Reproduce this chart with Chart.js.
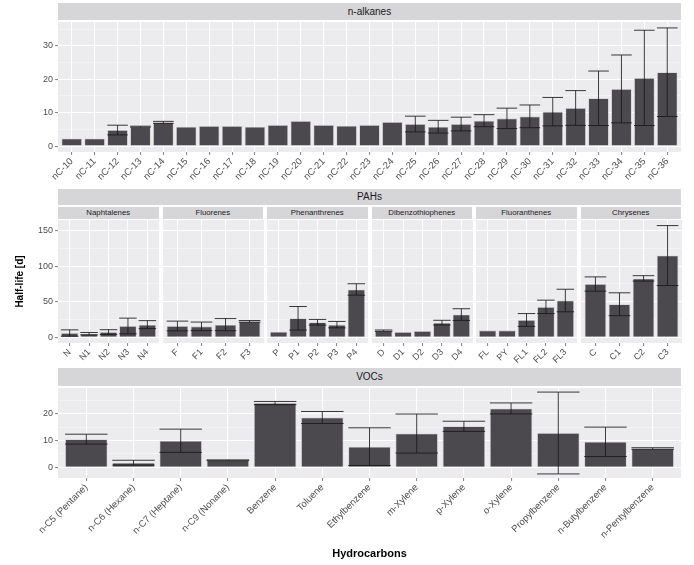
<!DOCTYPE html>
<html>
<head>
<meta charset="utf-8">
<script src="https://cdn.jsdelivr.net/npm/chart.js@4.4.1/dist/chart.umd.min.js"></script>
<style>
  html, body { margin: 0; padding: 0; background: #fff; }
  #fig { position: relative; width: 694px; height: 565px; overflow: hidden; font-family: "Liberation Sans", Arial, sans-serif; }
  #fig canvas { position: absolute; }
  .strip { position: absolute; background: #d6d5d8; color: #1a1a1a; text-align: center; white-space: nowrap; overflow: hidden; }
</style>
</head>
<body>
<div id="fig"></div>
<script>
// n-alkanes
const alkLabels = ['nC-10', 'nC-11', 'nC-12', 'nC-13', 'nC-14', 'nC-15', 'nC-16', 'nC-17', 'nC-18',
  'nC-19', 'nC-20', 'nC-21', 'nC-22', 'nC-23', 'nC-24', 'nC-25', 'nC-26', 'nC-27', 'nC-28', 'nC-29',
  'nC-30', 'nC-31', 'nC-32', 'nC-33', 'nC-34', 'nC-35', 'nC-36'];
const alkMean = [2.3, 2.3, 4.8, 5.8, 7.1, 5.8, 6.0, 6.0, 5.8, 6.3, 7.5, 6.3, 6.1, 6.3, 7.2,
  6.6, 5.8, 6.6, 7.6, 8.3, 8.9, 10.3, 11.4, 14.3, 17.1, 20.4, 22.1];
const alkSd = [0, 0, 1.45, 0.15, 0.3, 0, 0, 0, 0, 0, 0, 0, 0, 0, 0,
  2.35, 1.9, 2.05, 1.8, 3.05, 3.4, 4.25, 5.2, 8.15, 10.15, 14.25, 13.25];
const alkTicks = [0, 10, 20, 30];

// PAHs, one entry per facet
const pahGroups = ['Naphtalenes', 'Fluorenes', 'Phenanthrenes', 'Dibenzothiophenes', 'Fluoranthenes', 'Chrysenes'];
const pahLabels = [
  ['N', 'N1', 'N2', 'N3', 'N4'],
  ['F', 'F1', 'F2', 'F3'],
  ['P', 'P1', 'P2', 'P3', 'P4'],
  ['D', 'D1', 'D2', 'D3', 'D4'],
  ['FL', 'PY', 'FL1', 'FL2', 'FL3'],
  ['C', 'C1', 'C2', 'C3']
];
const pahMean = [
  [6.1, 5.2, 7.5, 16.0, 17.9],
  [16.0, 15.5, 17.9, 22.5],
  [8.0, 26.8, 21.2, 17.9, 67.2],
  [9.4, 7.5, 8.9, 20.7, 32.0],
  [9.9, 9.9, 24.4, 42.8, 51.7],
  [74.8, 46.5, 82.7, 114.7]
];
const pahSd = [
  [4.5, 1.7, 3.3, 11.0, 5.6],
  [6.8, 6.0, 8.5, 1.2],
  [0, 16.5, 4.0, 4.5, 8.0],
  [1.0, 0, 0, 3.3, 8.2],
  [0, 0, 9.0, 9.4, 15.8],
  [10.0, 16.0, 3.8, 42.0]
];
const pahTicks = [0, 50, 100, 150];

// VOCs
const vocLabels = ['n-C5 (Pentane)', 'n-C6 (Hexane)', 'n-C7 (Heptane)', 'n-C9 (Nonane)', 'Benzene', 'Toluene',
  'Ethylbenzene', 'm-Xylene', 'p-Xylene', 'o-Xylene', 'Propylbenzene', 'n-Butylbenzene', 'n-Pentylbenzene'];
const vocMean = [10.5, 1.7, 9.9, 2.6, 24.0, 18.6, 7.7, 12.6, 15.3, 22.0, 12.8, 9.5, 7.0];
const vocSd = [1.85, 0.9, 4.35, 0.15, 0.6, 2.25, 7.05, 7.3, 1.9, 2.05, 15.3, 5.5, 0.3];
const vocTicks = [0, 10, 20];

Chart.defaults.font.family = '"Liberation Sans", Arial, sans-serif';
Chart.defaults.animation = false;

const fig = document.getElementById('fig');

function strip(text, left, top, width, height, size) {
  const d = document.createElement('div');
  d.className = 'strip';
  d.style.cssText = 'left:' + left + 'px;top:' + top + 'px;width:' + width + 'px;height:' + height +
    'px;line-height:' + height + 'px;font-size:' + size + 'px;';
  d.textContent = text;
  fig.appendChild(d);
}

// ggplot-like range: include 0, pad 5% each side
function yRange(means, sds) {
  let lo = 0, hi = 0;
  means.forEach((m, i) => {
    lo = Math.min(lo, m - sds[i]);
    hi = Math.max(hi, m + sds[i]);
  });
  const pad = (hi - lo) * 0.05;
  return [lo - pad, hi + pad];
}

const panelBg = {
  id: 'panelBg',
  beforeDraw(chart) {
    const {ctx, chartArea: a} = chart;
    ctx.save();
    ctx.fillStyle = '#ecebee';
    ctx.fillRect(a.left, a.top, a.right - a.left, a.bottom - a.top);
    ctx.restore();
  }
};

const errorBars = {
  id: 'errorBars',
  afterDatasetsDraw(chart) {
    const ctx = chart.ctx, ys = chart.scales.y;
    chart.data.datasets.forEach((ds, di) => {
      chart.getDatasetMeta(di).data.forEach((bar, i) => {
        const sd = ds.sd[i];
        if (!sd) return;
        const m = ds.data[i].y;
        const top = ys.getPixelForValue(m + sd);
        const bot = ys.getPixelForValue(m - sd);
        const half = bar.width / 2;
        ctx.save();
        ctx.strokeStyle = 'rgba(25,25,25,0.85)';
        ctx.lineWidth = 1;
        ctx.beginPath();
        ctx.moveTo(bar.x, top); ctx.lineTo(bar.x, bot);
        ctx.moveTo(bar.x - half, top); ctx.lineTo(bar.x + half, top);
        ctx.moveTo(bar.x - half, bot); ctx.lineTo(bar.x + half, bot);
        ctx.stroke();
        ctx.restore();
      });
    });
  }
};

function panel(o) {
  const axisW = o.showY ? 58 : 0;
  const padL = o.showY ? 0 : 10, padR = 10, padT = 10;
  const cw = Math.round(padL + axisW + o.width + padR);
  const ch = padT + o.height + o.xH;
  const cv = document.createElement('canvas');
  cv.width = cw; cv.height = ch;
  cv.style.left = (o.left - axisW - padL) + 'px';
  cv.style.top = (o.top - padT) + 'px';
  cv.style.width = cw + 'px';
  cv.style.height = ch + 'px';
  fig.appendChild(cv);

  const step = o.ticks[1] - o.ticks[0];
  const gridVals = [];
  o.ticks.forEach(t => {
    if (t - step / 2 >= o.yMin && t === o.ticks[0]) gridVals.push(t - step / 2);
    gridVals.push(t);
    if (t + step / 2 <= o.yMax) gridVals.push(t + step / 2);
  });
  const isMajor = v => o.ticks.includes(v);

  new Chart(cv, {
    type: 'bar',
    data: {
      datasets: [{
        data: o.labels.map((l, i) => ({x: i + 1, y: o.mean[i]})),
        sd: o.sd,
        backgroundColor: '#4b494d',
        borderColor: '#cfcfcf',
        borderWidth: 0.8,
        barPercentage: 0.9,
        categoryPercentage: 1
      }]
    },
    options: {
      responsive: false,
      layout: {padding: {left: padL, right: padR, top: padT, bottom: 0}},
      plugins: {legend: {display: false}, tooltip: {enabled: false}},
      scales: {
        x: {
          type: 'linear',
          offset: false,
          min: 0.4,
          max: o.labels.length + 0.6,
          afterBuildTicks: s => { s.ticks = o.labels.map((l, i) => ({value: i + 1})); },
          afterFit: s => { s.height = o.xH; },
          ticks: {
            autoSkip: false, minRotation: 45, maxRotation: 45, padding: 1,
            color: '#4d4d4d', font: {size: o.xFont},
            callback: v => o.labels[v - 1]
          },
          grid: {offset: false, color: '#ffffff', lineWidth: 1.1, tickLength: 3, tickColor: '#8a8a8a'},
          border: {display: false},
          title: o.xTitle ? {
            display: true, text: o.xTitle, color: '#000',
            font: {size: 11, weight: 'bold'}, padding: {top: 0, bottom: 1}
          } : {display: false}
        },
        y: {
          min: o.yMin,
          max: o.yMax,
          afterBuildTicks: s => { s.ticks = gridVals.map(v => ({value: v})); },
          afterFit: s => { s.width = axisW; },
          ticks: {
            display: o.showY, padding: 2, color: '#4d4d4d', font: {size: 9},
            callback: v => isMajor(v) ? v : ''
          },
          grid: {
            color: c => isMajor(c.tick.value) ? '#ffffff' : 'rgba(255,255,255,0.6)',
            lineWidth: c => isMajor(c.tick.value) ? 1.1 : 0.6,
            drawTicks: o.showY, tickLength: 3,
            tickColor: c => isMajor(c.tick.value) ? '#8a8a8a' : 'rgba(0,0,0,0)'
          },
          border: {display: false},
          title: o.yTitle ? {
            display: true, text: o.yTitle, color: '#000',
            font: {size: 10, weight: 'bold'}, padding: {top: 14, bottom: 0}
          } : {display: false}
        }
      }
    },
    plugins: [panelBg, errorBars]
  });
}

// row 1: n-alkanes
strip('n-alkanes', 58, 3, 623, 17, 10);
const alkR = yRange(alkMean, alkSd);
panel({left: 58, top: 22, width: 623, height: 130, xH: 35, showY: true,
  labels: alkLabels, mean: alkMean, sd: alkSd, ticks: alkTicks,
  yMin: alkR[0], yMax: alkR[1], xFont: 9.5});

// row 2: PAHs facets share one y range
strip('PAHs', 58, 189, 623, 16, 10);
const pahR = yRange(pahMean.flat(), pahSd.flat());
const facetW = (623 - 5 * 4) / 6;
pahGroups.forEach((g, k) => {
  const left = 58 + k * (facetW + 4);
  strip(g, left, 207, facetW, 12, 7.8);
  panel({left: left, top: 220, width: facetW, height: 123, xH: 24, showY: k === 0,
    labels: pahLabels[k], mean: pahMean[k], sd: pahSd[k], ticks: pahTicks,
    yMin: pahR[0], yMax: pahR[1], xFont: 9, yTitle: k === 0 ? 'Half-life [d]' : null});
});

// row 3: VOCs
strip('VOCs', 58, 368, 623, 18, 10);
const vocR = yRange(vocMean, vocSd);
panel({left: 58, top: 388, width: 623, height: 90, xH: 84, showY: true,
  labels: vocLabels, mean: vocMean, sd: vocSd, ticks: vocTicks,
  yMin: vocR[0], yMax: vocR[1], xFont: 9.5, xTitle: 'Hydrocarbons'});
</script>
</body>
</html>
